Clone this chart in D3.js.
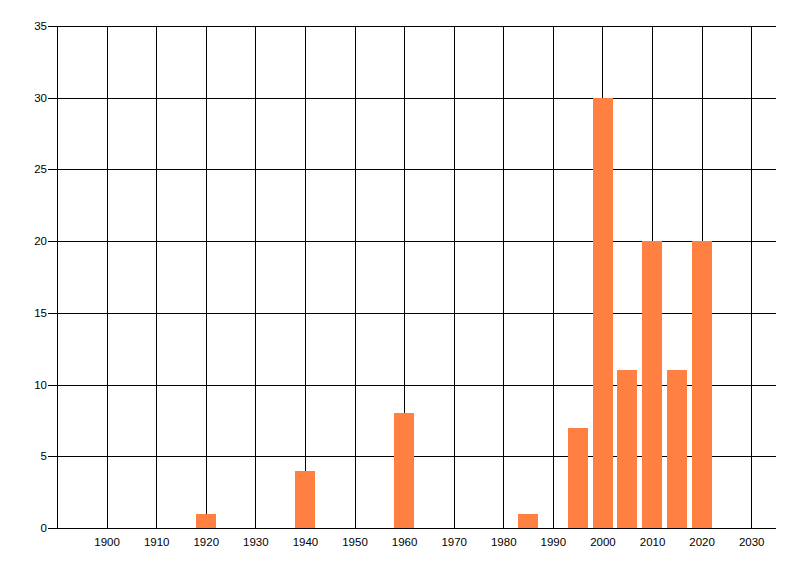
<!DOCTYPE html>
<html>
<head>
<meta charset="utf-8">
<script src="https://cdn.jsdelivr.net/npm/d3@7"></script>
<style>
  body { margin: 0; background: #fff; }
  text { font-family: "Liberation Sans", Arial, sans-serif; font-size: 11.5px; fill: #000; }
</style>
</head>
<body>
<svg width="800" height="576"></svg>
<script>
// data
var years  = [1920, 1940, 1960, 1985, 1995, 2000, 2005, 2010, 2015, 2020];
var counts = [1, 4, 8, 1, 7, 30, 11, 20, 11, 20];
var xTicks = [1900, 1910, 1920, 1930, 1940, 1950, 1960, 1970, 1980, 1990, 2000, 2010, 2020, 2030];
var yTicks = [0, 5, 10, 15, 20, 25, 30, 35];

var data = years.map(function(y, i) { return {year: y, count: counts[i]}; });

var svg = d3.select("svg"),
    margin = {top: 26, right: 24, bottom: 48, left: 57},
    width = 800 - margin.left - margin.right,
    height = 576 - margin.top - margin.bottom;

var xScale = d3.scaleLinear()
    .domain([1890, 2035])
    .range([0, width]);

var yScale = d3.scaleLinear()
    .domain([0, 35])
    .range([height, 0]);

var g = svg.append("g")
    .attr("transform", "translate(" + margin.left + "," + margin.top + ")");

function px(v) { return Math.round(v) + 0.5; }

// vertical gridlines
g.selectAll(".vgrid")
    .data(xTicks)
    .enter().append("line")
    .attr("x1", function(d) { return px(xScale(d)); })
    .attr("x2", function(d) { return px(xScale(d)); })
    .attr("y1", 0)
    .attr("y2", height)
    .attr("stroke", "#000");

// horizontal gridlines + left ticks
g.selectAll(".hgrid")
    .data(yTicks)
    .enter().append("line")
    .attr("x1", -9)
    .attr("x2", width)
    .attr("y1", function(d) { return px(yScale(d)); })
    .attr("y2", function(d) { return px(yScale(d)); })
    .attr("stroke", "#000");

// y axis line
g.append("line")
    .attr("x1", 0.5).attr("x2", 0.5)
    .attr("y1", 0).attr("y2", height + 0.5)
    .attr("stroke", "#000");

// bars
var barW = xScale(1904) - xScale(1900);
g.selectAll(".bar")
    .data(data)
    .enter().append("rect")
    .attr("class", "bar")
    .attr("x", function(d) { return Math.round(xScale(d.year) - barW / 2); })
    .attr("width", Math.round(barW))
    .attr("y", function(d) { return Math.round(yScale(d.count)); })
    .attr("height", function(d) { return Math.round(yScale(0)) - Math.round(yScale(d.count)); })
    .attr("fill", "#FF8040");

// x axis line drawn over bars
g.append("line")
    .attr("x1", 0).attr("x2", width)
    .attr("y1", px(yScale(0))).attr("y2", px(yScale(0)))
    .attr("stroke", "#000");

// y labels
g.selectAll(".ylab")
    .data(yTicks)
    .enter().append("text")
    .attr("x", -10)
    .attr("y", function(d) { return yScale(d); })
    .attr("dy", "0.35em")
    .attr("text-anchor", "end")
    .text(function(d) { return d; });

// x labels
g.selectAll(".xlab")
    .data(xTicks)
    .enter().append("text")
    .attr("x", function(d) { return xScale(d) + 0.5; })
    .attr("y", height + 18)
    .attr("text-anchor", "middle")
    .text(function(d) { return d; });
</script>
</body>
</html>
